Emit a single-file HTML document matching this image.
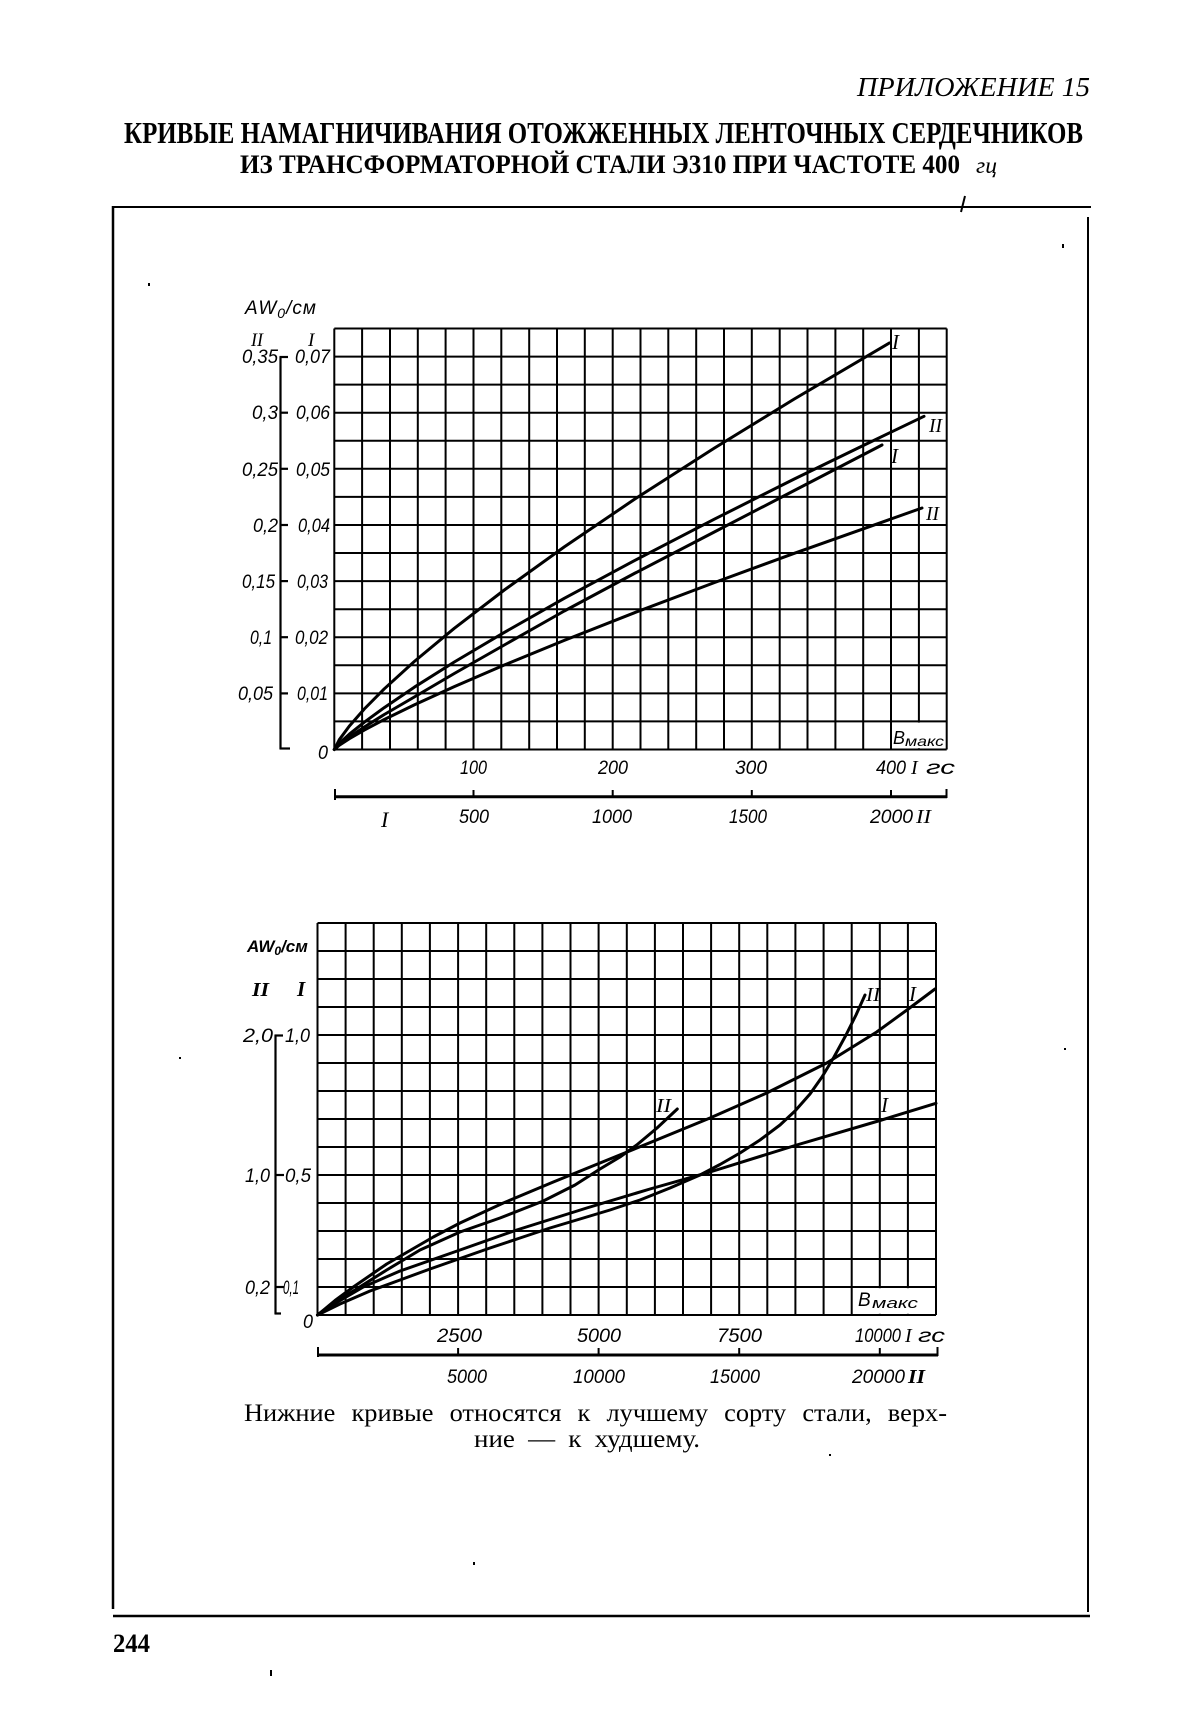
<!DOCTYPE html>
<html><head><meta charset="utf-8"><style>
html,body{margin:0;padding:0;background:#fff;}
svg{display:block;}
.ax{font-family:"Liberation Sans","DejaVu Sans",sans-serif;font-style:italic;fill:#000;}
.rn{font-family:"Liberation Serif","DejaVu Serif",serif;font-style:italic;fill:#000;}
.sf{font-family:"Liberation Serif","DejaVu Serif",serif;fill:#000;}
</style></head><body>
<svg width="1200" height="1729" viewBox="0 0 1200 1729" xmlns="http://www.w3.org/2000/svg">
<rect width="1200" height="1729" fill="#fff"/>

<!-- Header -->
<text class="sf" x="857" y="96" font-size="27" font-style="italic" textLength="233" lengthAdjust="spacingAndGlyphs">ПРИЛОЖЕНИЕ 15</text>
<text class="sf" x="124" y="143" font-size="31" font-weight="bold" textLength="959" lengthAdjust="spacingAndGlyphs">КРИВЫЕ НАМАГНИЧИВАНИЯ ОТОЖЖЕННЫХ ЛЕНТОЧНЫХ СЕРДЕЧНИКОВ</text>
<text class="sf" x="240" y="173" font-size="26" font-weight="bold" textLength="720" lengthAdjust="spacingAndGlyphs">ИЗ ТРАНСФОРМАТОРНОЙ СТАЛИ Э310 ПРИ ЧАСТОТЕ 400</text>
<text class="sf" x="976" y="173" font-size="23" font-style="italic" textLength="21" lengthAdjust="spacingAndGlyphs">гц</text>

<!-- Page frame -->
<g stroke="#000" fill="none">
<line x1="113" y1="207" x2="1091" y2="207" stroke-width="2"/>
<line x1="961" y1="212" x2="965" y2="196" stroke-width="2"/>
<line x1="113" y1="206" x2="113" y2="1609" stroke-width="2.5"/>
<line x1="1088" y1="217" x2="1088" y2="1612" stroke-width="2"/>
<line x1="113" y1="1616" x2="1090" y2="1616" stroke-width="2.5"/>
</g>

<!-- ============ TOP CHART ============ -->
<g stroke="#000" stroke-width="2" fill="none">
<path d="M334.3 328.5V749.5M362.1 328.5V749.5M390 328.5V749.5M417.8 328.5V749.5M445.6 328.5V749.5M473.5 328.5V749.5M501.3 328.5V749.5M529.2 328.5V749.5M557 328.5V749.5M584.8 328.5V749.5M612.7 328.5V749.5M640.5 328.5V749.5M668.3 328.5V749.5M696.2 328.5V749.5M724 328.5V749.5M751.8 328.5V749.5M779.7 328.5V749.5M807.5 328.5V749.5M835.4 328.5V749.5M863.2 328.5V749.5M891 328.5V749.5M918.9 328.5V749.5M946.7 328.5V749.5"/>
<path d="M334.3 749.5H946.7M334.3 721.4H946.7M334.3 693.4H946.7M334.3 665.3H946.7M334.3 637.2H946.7M334.3 609.2H946.7M334.3 581.1H946.7M334.3 553H946.7M334.3 525H946.7M334.3 496.9H946.7M334.3 468.8H946.7M334.3 440.8H946.7M334.3 412.7H946.7M334.3 384.6H946.7M334.3 356.6H946.7M334.3 328.5H946.7"/>
</g>
<!-- B maks box top -->
<rect x="892.5" y="722.6" width="53" height="25.6" fill="#fff"/>
<text class="ax" x="893" y="744" font-size="18">B</text>
<text class="ax" x="905" y="746" font-size="14" textLength="39" lengthAdjust="spacingAndGlyphs">макс</text>

<!-- curves top -->
<g stroke="#000" stroke-width="3" fill="none" stroke-linejoin="round" stroke-linecap="round">
<polyline points="334.3,749.5 339.3,739.7 349.3,726.1 364.3,709 384.3,688.8 414.3,661.5 454.3,628.3 504.3,590 564.3,546.9 634.3,499.4 714.3,448.1 794.3,399 889.3,343"/>
<polyline points="334.3,749.5 339.3,743.4 349.3,734.2 364.3,722.2 384.3,707.6 414.3,687.2 454.3,662 504.3,632.4 564.3,598.3 634.3,560.7 714.3,519.2 794.3,479 864.3,445 924,416.3"/>
<polyline points="334.3,749.5 339.3,744.8 349.3,737.2 364.3,727 384.3,714.5 414.3,697 454.3,673.5 504.3,645 564.3,611 634.3,573.5 714.3,532 794.3,490.5 882,445"/>
<polyline points="334.3,749.5 339.3,745.2 349.3,738.7 364.3,730.1 384.3,719.5 414.3,704.9 454.3,686.6 504.3,665 564.3,640.4 634.3,612.8 714.3,582.6 794.3,553.3 922,508"/>
</g>
<text class="rn" x="892" y="349" font-size="21">I</text>
<text class="rn" x="929" y="432" font-size="20" textLength="13" lengthAdjust="spacingAndGlyphs">II</text>
<text class="rn" x="891" y="463" font-size="21">I</text>
<text class="rn" x="926" y="520" font-size="20" textLength="13" lengthAdjust="spacingAndGlyphs">II</text>

<!-- left axis top -->
<g stroke="#000" stroke-width="2.2" fill="none">
<line x1="280.5" y1="356.6" x2="280.5" y2="749"/>
<line x1="279.5" y1="357" x2="288" y2="357"/>
<line x1="280" y1="412.7" x2="288" y2="412.7"/>
<line x1="280" y1="468.8" x2="288" y2="468.8"/>
<line x1="280" y1="525" x2="288" y2="525"/>
<line x1="280" y1="581.1" x2="288" y2="581.1"/>
<line x1="280" y1="637.2" x2="288" y2="637.2"/>
<line x1="280" y1="693.4" x2="288" y2="693.4"/>
<line x1="279.5" y1="748.5" x2="290" y2="748.5"/>
</g>
<text class="ax" x="245" y="314" font-size="19" letter-spacing="1">AW<tspan font-size="14" dy="4">0</tspan><tspan dy="-4">/см</tspan></text>
<text class="rn" x="251" y="346" font-size="19" textLength="12" lengthAdjust="spacingAndGlyphs">II</text>
<text class="rn" x="308" y="346" font-size="19">I</text>
<g class="ax" font-size="19">
<text x="242" y="363" textLength="36" lengthAdjust="spacingAndGlyphs">0,35</text>
<text x="252" y="419" textLength="26" lengthAdjust="spacingAndGlyphs">0,3</text>
<text x="242" y="476" textLength="36" lengthAdjust="spacingAndGlyphs">0,25</text>
<text x="253" y="532" textLength="25" lengthAdjust="spacingAndGlyphs">0,2</text>
<text x="242" y="588" textLength="33" lengthAdjust="spacingAndGlyphs">0,15</text>
<text x="250" y="644" textLength="22" lengthAdjust="spacingAndGlyphs">0,1</text>
<text x="238" y="700" textLength="35" lengthAdjust="spacingAndGlyphs">0,05</text>
<text x="295" y="363" textLength="35" lengthAdjust="spacingAndGlyphs">0,07</text>
<text x="296" y="419" textLength="34" lengthAdjust="spacingAndGlyphs">0,06</text>
<text x="296" y="476" textLength="34" lengthAdjust="spacingAndGlyphs">0,05</text>
<text x="298" y="532" textLength="32" lengthAdjust="spacingAndGlyphs">0,04</text>
<text x="297" y="588" textLength="31" lengthAdjust="spacingAndGlyphs">0,03</text>
<text x="295" y="644" textLength="33" lengthAdjust="spacingAndGlyphs">0,02</text>
<text x="297" y="700" textLength="31" lengthAdjust="spacingAndGlyphs">0,01</text>
<text x="318" y="759" textLength="10" lengthAdjust="spacingAndGlyphs">0</text>
</g>
<!-- x labels top -->
<g class="ax" font-size="19">
<text x="460" y="774" textLength="27" lengthAdjust="spacingAndGlyphs">100</text>
<text x="598" y="774" textLength="30" lengthAdjust="spacingAndGlyphs">200</text>
<text x="735" y="774" textLength="32" lengthAdjust="spacingAndGlyphs">300</text>
<text x="876" y="774" textLength="30" lengthAdjust="spacingAndGlyphs">400</text>
<text x="926" y="774" textLength="29" lengthAdjust="spacingAndGlyphs">гс</text>
<text x="459" y="823" textLength="30" lengthAdjust="spacingAndGlyphs">500</text>
<text x="592" y="823" textLength="40" lengthAdjust="spacingAndGlyphs">1000</text>
<text x="729" y="823" textLength="38" lengthAdjust="spacingAndGlyphs">1500</text>
<text x="870" y="823" textLength="43" lengthAdjust="spacingAndGlyphs">2000</text>
</g>
<text class="rn" x="911" y="774" font-size="20">I</text>
<text class="rn" x="916" y="823" font-size="20" textLength="15" lengthAdjust="spacingAndGlyphs">II</text>
<text class="rn" x="381" y="827" font-size="22">I</text>
<g stroke="#000" fill="none">
<line x1="334.3" y1="796.7" x2="947" y2="796.7" stroke-width="3"/>
<line x1="335" y1="789" x2="335" y2="800" stroke-width="2"/>
<line x1="946.5" y1="789" x2="946.5" y2="798" stroke-width="2"/>
<line x1="473.5" y1="790" x2="473.5" y2="797" stroke-width="2"/>
<line x1="612.7" y1="790" x2="612.7" y2="797" stroke-width="2"/>
<line x1="751.8" y1="790" x2="751.8" y2="797" stroke-width="2"/>
<line x1="891" y1="790" x2="891" y2="797" stroke-width="2"/>
</g>

<!-- ============ BOTTOM CHART ============ -->
<g stroke="#000" stroke-width="2" fill="none">
<path d="M317.5 923V1315M345.6 923V1315M373.7 923V1315M401.8 923V1315M429.9 923V1315M458.1 923V1315M486.2 923V1315M514.3 923V1315M542.4 923V1315M570.5 923V1315M598.6 923V1315M626.8 923V1315M654.9 923V1315M683 923V1315M711.1 923V1315M739.2 923V1315M767.3 923V1315M795.4 923V1315M823.6 923V1315M851.7 923V1315M879.8 923V1315M907.9 923V1315M936 923V1315"/>
<path d="M317.5 1315H936M317.5 1287H936M317.5 1259H936M317.5 1231H936M317.5 1203H936M317.5 1175H936M317.5 1147H936M317.5 1119H936M317.5 1091H936M317.5 1063H936M317.5 1035H936M317.5 1007H936M317.5 979H936M317.5 951H936M317.5 923H936"/>
</g>
<rect x="853" y="1288.2" width="81.8" height="25.6" fill="#fff"/>
<text class="ax" x="858" y="1306" font-size="19">B</text>
<text class="ax" x="872" y="1308" font-size="15" textLength="46" lengthAdjust="spacingAndGlyphs">макс</text>

<g stroke="#000" stroke-width="3" fill="none" stroke-linejoin="round" stroke-linecap="round">
<polyline points="317.5,1315 326,1308 335,1300.5 353.3,1287 386.7,1264 433.3,1237 460,1223 503.3,1203 553.3,1182 600,1163 633.3,1149.5 710,1118 766.7,1093 826.7,1063 876.7,1032 908.3,1009 935,989"/>
<polyline points="317.5,1315 335,1302 353.3,1291 386.7,1270 420,1250 460,1232 500,1218 543.3,1201 575,1185 600,1169 620,1157 636.7,1145 657,1128 677.3,1109"/>
<polyline points="317.5,1315 332.5,1305 363.3,1287 400,1271 460,1250 516.7,1230 586.7,1208 650,1189 710,1172 796.7,1145 880,1120.5 936,1103.3"/>
<polyline points="317.5,1315 340,1304 370,1291 400,1280 430,1269 460,1258.5 490,1248 520,1238 550,1228 580,1219 610,1210 640,1200 670,1188 700,1175 720,1164.5 740,1153 760,1140 780,1125 795,1111 810,1094 822,1077 834,1057 846,1035 856,1015 865,995"/>
</g>
<text class="rn" x="656" y="1112" font-size="20" textLength="15" lengthAdjust="spacingAndGlyphs">II</text>
<text class="rn" x="866" y="1001" font-size="20" textLength="14" lengthAdjust="spacingAndGlyphs">II</text>
<text class="rn" x="909" y="1001" font-size="21">I</text>
<text class="rn" x="881" y="1112" font-size="21">I</text>

<!-- left axis bottom -->
<g stroke="#000" stroke-width="2.2" fill="none">
<line x1="275.5" y1="1035" x2="275.5" y2="1314"/>
<line x1="274.5" y1="1035.5" x2="283" y2="1035.5"/>
<line x1="275" y1="1175" x2="284" y2="1175"/>
<line x1="275" y1="1287" x2="284" y2="1287"/>
<line x1="274.5" y1="1313.5" x2="281" y2="1313.5"/>
</g>
<text class="ax" x="247" y="952" font-size="17" font-weight="bold">AW<tspan font-size="12" dy="3">0</tspan><tspan dy="-3">/см</tspan></text>
<text class="rn" x="252" y="996" font-size="20" font-weight="bold" textLength="17" lengthAdjust="spacingAndGlyphs">II</text>
<text class="rn" x="297" y="996" font-size="21" font-weight="bold">I</text>
<g class="ax" font-size="19">
<text x="243" y="1042" textLength="30" lengthAdjust="spacingAndGlyphs">2,0</text>
<text x="285" y="1042" textLength="25" lengthAdjust="spacingAndGlyphs">1,0</text>
<text x="245" y="1182" textLength="25" lengthAdjust="spacingAndGlyphs">1,0</text>
<text x="285" y="1182" textLength="26" lengthAdjust="spacingAndGlyphs">0,5</text>
<text x="245" y="1294" textLength="25" lengthAdjust="spacingAndGlyphs">0,2</text>
<text x="283" y="1294" textLength="16" lengthAdjust="spacingAndGlyphs">0,1</text>
<text x="303" y="1328" textLength="10" lengthAdjust="spacingAndGlyphs">0</text>
<text x="437" y="1342" textLength="45" lengthAdjust="spacingAndGlyphs">2500</text>
<text x="577" y="1342" textLength="44" lengthAdjust="spacingAndGlyphs">5000</text>
<text x="717" y="1342" textLength="45" lengthAdjust="spacingAndGlyphs">7500</text>
<text x="855" y="1342" textLength="46" lengthAdjust="spacingAndGlyphs">10000</text>
<text x="918" y="1342" textLength="27" lengthAdjust="spacingAndGlyphs">гс</text>
<text x="447" y="1383" textLength="40" lengthAdjust="spacingAndGlyphs">5000</text>
<text x="573" y="1383" textLength="52" lengthAdjust="spacingAndGlyphs">10000</text>
<text x="710" y="1383" textLength="50" lengthAdjust="spacingAndGlyphs">15000</text>
<text x="852" y="1383" textLength="53" lengthAdjust="spacingAndGlyphs">20000</text>
</g>
<text class="rn" x="905" y="1342" font-size="20">I</text>
<text class="rn" x="908" y="1383" font-size="20" font-weight="bold" textLength="17" lengthAdjust="spacingAndGlyphs">II</text>
<g stroke="#000" fill="none">
<line x1="317.5" y1="1355" x2="938" y2="1355" stroke-width="3"/>
<line x1="318" y1="1347" x2="318" y2="1357" stroke-width="2"/>
<line x1="937.5" y1="1347" x2="937.5" y2="1356" stroke-width="2"/>
<line x1="458.1" y1="1348" x2="458.1" y2="1355" stroke-width="2"/>
<line x1="598.6" y1="1348" x2="598.6" y2="1355" stroke-width="2"/>
<line x1="739.2" y1="1348" x2="739.2" y2="1355" stroke-width="2"/>
<line x1="879.8" y1="1348" x2="879.8" y2="1355" stroke-width="2"/>
</g>

<!-- caption -->
<text class="sf" x="244" y="1421" font-size="25" word-spacing="9" textLength="703" lengthAdjust="spacingAndGlyphs">Нижние кривые относятся к лучшему сорту стали, верх-</text>
<text class="sf" x="474" y="1447" font-size="25" word-spacing="6" textLength="226" lengthAdjust="spacingAndGlyphs">ние — к худшему.</text>

<!-- page number -->
<text class="sf" x="113" y="1652" font-size="26" font-weight="bold" textLength="37" lengthAdjust="spacingAndGlyphs">244</text>

<!-- specks -->
<g fill="#000">
<rect x="148" y="283" width="2" height="3"/>
<rect x="1062" y="244" width="2" height="4"/>
<rect x="179" y="1057" width="2" height="2"/>
<rect x="1064" y="1048" width="2" height="2"/>
<rect x="829" y="1454" width="2" height="2"/>
<rect x="473" y="1562" width="2" height="3"/>
<rect x="270" y="1670" width="2" height="6"/>
</g>
</svg>
</body></html>
